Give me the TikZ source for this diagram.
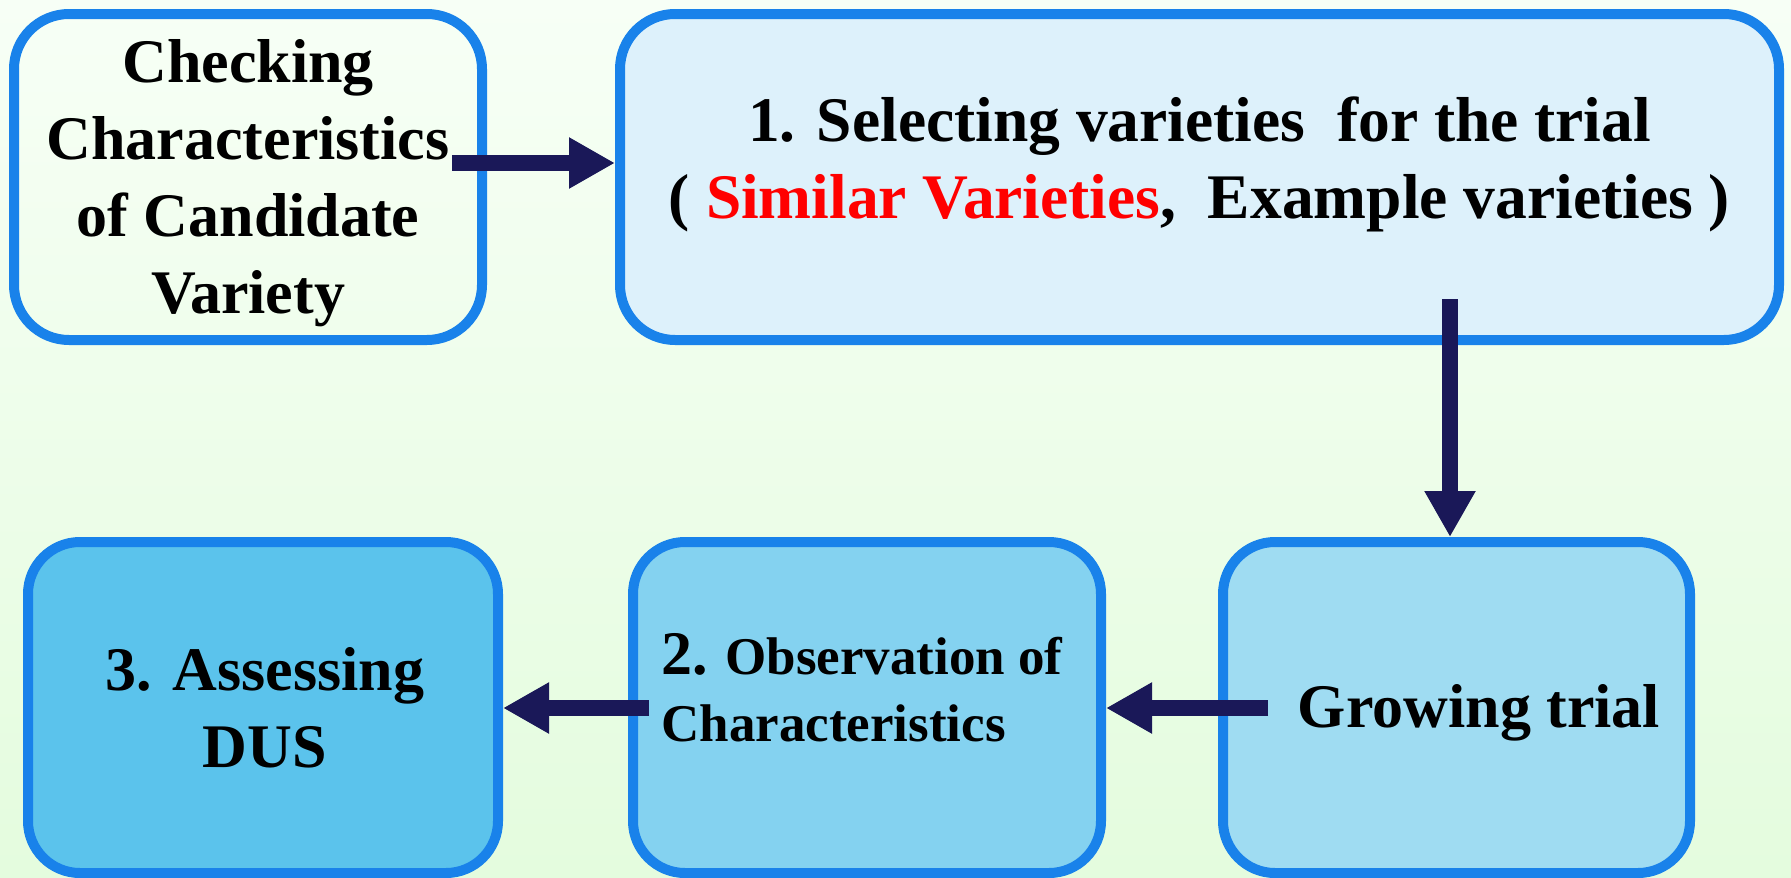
\documentclass[tikz,border=0pt]{standalone}
\usepackage{fontspec}
\setmainfont{Liberation Serif}
\usetikzlibrary{arrows.meta}
\definecolor{bgtop}{HTML}{F7FFF6}
\definecolor{bgbot}{HTML}{E4FCDE}
\definecolor{boxline}{HTML}{1982EA}
\definecolor{arrowc}{HTML}{1A1858}
\definecolor{fillsel}{HTML}{DDF1FB}
\definecolor{fillgrw}{HTML}{9FDCF2}
\definecolor{fillobs}{HTML}{84D2F0}
\definecolor{fillass}{HTML}{5BC3EC}
\begin{document}
\begin{tikzpicture}[x=1pt, y=-1pt, line join=round,
		box/.style={draw=boxline, line width=10pt, rounded corners=55pt, inner sep=0pt},
		flow/.style={-{Triangle[width=48pt,length=46pt]}, draw=arrowc, line width=16pt},
		txt/.style={align=center, inner sep=0pt, font=\fontsize{62}{77}\selectfont\bfseries}]
	\useasboundingbox (0,0) rectangle (1791,878);
	\shade[top color=bgtop, bottom color=bgbot] (0,0) rectangle (1791,878);
	% Boxes
	\node[box, minimum width=468pt, minimum height=326pt] (chk) at (248,177) {};
	\node[box, fill=fillsel, minimum width=1159pt, minimum height=326pt] (sel) at (1199.5,177) {};
	\node[box, fill=fillass, rounded corners=52pt, minimum width=470pt, minimum height=331pt] (ass) at (263,707.5) {};
	\node[box, fill=fillobs, rounded corners=52pt, minimum width=468pt, minimum height=331pt] (obs) at (867,707.5) {};
	\node[box, fill=fillgrw, rounded corners=52pt, minimum width=467pt, minimum height=331pt] (grw) at (1456.5,707.5) {};
	% Texts
	\node[txt] (tchk) at (248,183) {Checking\\Characteristics\\of Candidate\\Variety};
	\node[txt, font=\fontsize{63.5}{77}\selectfont\bfseries] (tsel) at (1199.5,164) {1. Selecting varieties\ \ for the trial\\
		( \textcolor{red}{Similar Varieties}, \ Example varieties )};
	\node[txt] (tass) at (265,708) {3. Assessing\\DUS};
	\node[txt] (tgrw) at (1479,713) {Growing trial};
	\node[txt, align=left, font=\fontsize{53}{67}\selectfont\bfseries] (tobs) at (862,688)
		{{\fontsize{62}{67}\selectfont 2.} Observation of\\Characteristics};
	% Arrows
	\coordinate (a1) at (452,163);
	\coordinate (a2) at (1450,299);
	\coordinate (a3) at (1268,708);
	\coordinate (a4) at (649,708);
	\draw[flow] (a1) -- (sel.west |- a1);
	\draw[flow] (a2) -- (a2 |- grw.north);
	\draw[flow] (a3) -- (obs.east |- a3);
	\draw[flow] (a4) -- (ass.east |- a4);
\end{tikzpicture}
\end{document}
